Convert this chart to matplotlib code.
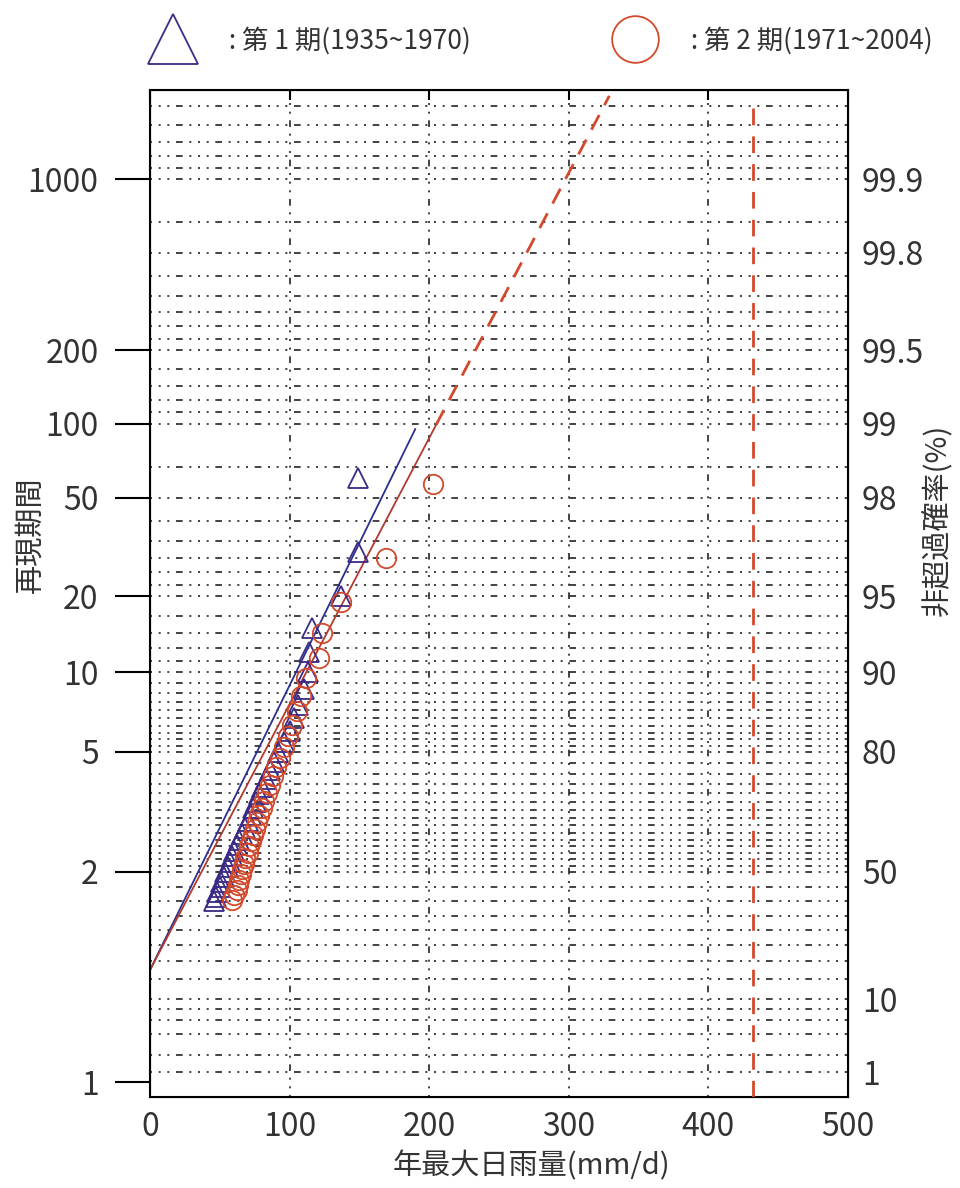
import numpy as np
import matplotlib
matplotlib.use('Agg')
import matplotlib.pyplot as plt
from matplotlib.ticker import NullLocator

plt.rcParams['font.family'] = ['Noto Sans CJK JP', 'DejaVu Sans']

# ---- data ----
# period 1 (1935~1970): annual max daily rainfall (mm/d) and plotted return period (yr)
p1_x = [149, 149, 137, 116, 114, 113, 110, 106, 103, 100, 96, 92, 89, 86, 83, 80, 78,
        76, 74, 72, 70, 68, 66, 64, 62, 60, 59, 57, 56, 54, 53, 51, 50, 48, 47, 46]
p1_T = [60, 30, 20, 15, 12, 10, 8.6, 7.5, 6.7, 6.0, 5.45, 5.0, 4.6, 4.3, 4.0, 3.75, 3.53,
        3.33, 3.16, 3.0, 2.86, 2.73, 2.61, 2.5, 2.4, 2.31, 2.22, 2.14, 2.07, 2.0, 1.94,
        1.88, 1.82, 1.76, 1.71, 1.67]
# period 2 (1971~2004)
p2_x = [203, 169, 137, 123, 121, 112, 108, 105, 102, 99, 96, 93, 90, 88, 86, 84, 82,
        80, 78, 77, 75, 74, 72, 71, 70, 68, 67, 66, 65, 64, 63, 62, 60, 59]
p2_T = [57, 28.5, 19, 14.3, 11.4, 9.5, 8.1, 7.1, 6.3, 5.7, 5.2, 4.75, 4.4, 4.1, 3.8, 3.56,
        3.35, 3.17, 3.0, 2.85, 2.71, 2.59, 2.48, 2.38, 2.28, 2.19, 2.11, 2.04, 1.97, 1.9,
        1.84, 1.78, 1.73, 1.68]

# fitted gumbel lines (end points)
fit1_x = [0, 190]
fit1_T = [1.21, 95]
fit2_x = [0, 205]
fit2_T = [1.21, 99]
fit2_ext_x = [205, 329]
fit2_ext_T = [99, 2200]
limit_x = 432
limit_T = [1.003, 2080]

left_T = [1, 2, 5, 10, 20, 50, 100, 200, 1000]
left_F = [0.0064, 0.5, 0.8, 0.9, 0.95, 0.98, 0.99, 0.995, 0.999]
right_F = [0.01, 0.1, 0.5, 0.8, 0.9, 0.95, 0.98, 0.99, 0.995, 0.998, 0.999]
right_lab = ['1', '10', '50', '80', '90', '95', '98', '99', '99.5', '99.8', '99.9']

grid_pct = ([99.95, 99.94, 99.93, 99.92, 99.91, 99.9, 99.85, 99.8, 99.75, 99.7, 99.65,
             99.6, 99.55, 99.5, 99.4, 99.3, 99.2, 99.1, 99.0, 98.5, 98, 97.5, 97, 96.5,
             96, 95.5, 95] + list(range(94, 79, -1)) + list(range(78, 49, -2)) +
            [45, 40, 35, 30, 25, 20, 15, 10, 8, 6, 4, 2, 1])


def fwd(F):
    F = np.clip(np.asarray(F, dtype=float), 1e-12, 1 - 1e-12)
    return -np.log(-np.log(F))


def inv(u):
    return np.exp(-np.exp(-np.asarray(u, dtype=float)))


def T2F(T):
    return 1 - 1 / np.asarray(T, dtype=float)


blue = '#2b2f8f'
tri_c = '#3b2a86'
red = '#d2492c'
txt = '#333333'
ylo, yhi = 0.003, 0.99957

fig = plt.figure(figsize=(9.6, 11.88), dpi=100)
ax = fig.add_axes([150 / 960, 1 - 1097 / 1188, 698 / 960, 1007 / 1188])
ax.set_yscale('function', functions=(fwd, inv))

gstyle = dict(color='#222222', lw=1.2, dashes=(1.2, 4, 1.2, 4, 1.2, 4, 4, 4), zorder=1)
for p in grid_pct:
    ax.axhline(p / 100, **gstyle)
for xv in [100, 200, 300, 400]:
    ax.axvline(xv, **gstyle)

ax.plot(fit1_x, T2F(fit1_T), color=blue, lw=1.3, zorder=3)
ax.plot(fit2_x, T2F(fit2_T), color='#b03a2e', lw=1.3, zorder=3)
ax.plot(fit2_ext_x, T2F(fit2_ext_T), color=red, lw=2, dashes=(6, 4), zorder=3)
ax.plot([limit_x, limit_x], T2F(limit_T), color=red, lw=2, dashes=(6, 4), zorder=3)

h1, = ax.plot(p1_x, T2F(p1_T), ls='none', marker='^', ms=15, mfc='none', mec=tri_c,
              mew=1.3, zorder=4)
h2, = ax.plot(p2_x, T2F(p2_T), ls='none', marker='o', ms=14, mfc='none', mec=red,
              mew=1.3, zorder=4)

ax.set_xlim(0, 500)
ax.set_ylim(ylo, yhi)
ax.set_xticks([0, 100, 200, 300, 400, 500])
ax.tick_params(axis='x', bottom=False, top=True, direction='in', length=7, width=1.5,
               labelsize=23, pad=10, labelcolor=txt)
ax.set_yticks(left_F)
ax.set_yticklabels([str(t) for t in left_T])
ax.yaxis.set_minor_locator(NullLocator())
ax.tick_params(axis='y', direction='out', length=25, width=1.5, labelsize=23, pad=12,
               labelcolor=txt)
for s in ax.spines.values():
    s.set_linewidth(1.5)

ax2 = ax.twinx()
ax2.set_yscale('function', functions=(fwd, inv))
ax2.set_ylim(ylo, yhi)
ax2.set_yticks(right_F)
ax2.set_yticklabels(right_lab)
ax2.yaxis.set_minor_locator(NullLocator())
ax2.tick_params(axis='y', length=0, labelsize=23, pad=10, labelcolor=txt)

# axis titles
fig.text(531 / 960, 1 - 1166 / 1188, '年最大日雨量(mm/d)', fontsize=21, color=txt,
         ha='center', va='center')
fig.text(30 / 960, 1 - 535 / 1188, '再現期間', fontsize=21, color=txt, rotation=90,
         ha='center', va='center')
fig.text(938 / 960, 1 - 520 / 1188, '非超過確率(%)', fontsize=21, color=txt, rotation=90,
         ha='center', va='center')

leg = fig.legend([h1, h2], [' : 第 1 期(1935~1970)', ' : 第 2 期(1971~2004)'],
                 loc='center left', bbox_to_anchor=(0.128, 0.966), ncol=2, frameon=False,
                 markerscale=2.4, handlelength=2.0, handletextpad=0.9, columnspacing=5.2,
                 prop={'family': ['Noto Sans CJK JP', 'DejaVu Sans'], 'size': 19})
for t in leg.get_texts():
    t.set_color(txt)

fig.savefig('out.png', dpi=100)
